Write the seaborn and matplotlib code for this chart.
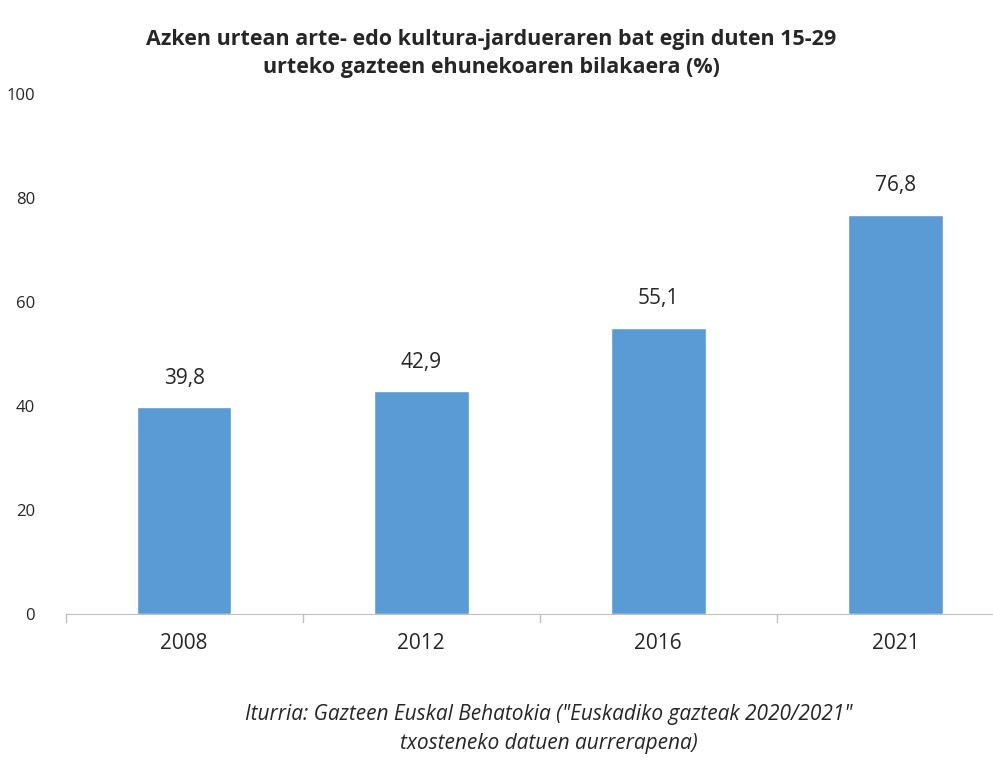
import seaborn as sns
import matplotlib.pyplot as plt
import pandas as pd

# Datuak
years = ["2008", "2012", "2016", "2021"]
values = [39.8, 42.9, 55.1, 76.8]
labels = ["39,8", "42,9", "55,1", "76,8"]

sns.set_style("white")
plt.rcParams["font.family"] = ["Open Sans", "DejaVu Sans"]

df = pd.DataFrame({"year": years, "value": values})

fig = plt.figure(figsize=(9.93, 7.71), dpi=100)
ax = fig.add_axes([0.066, 0.2036, 0.955, 0.6744])

sns.barplot(data=df, x="year", y="value", color="#5B9BD5", width=0.4,
            saturation=1, ax=ax)

for i, (v, t) in enumerate(zip(values, labels)):
    ax.text(i, v + 3.5, t, ha="center", va="bottom", fontsize=15)

ax.set_ylim(0, 100)
ax.set_xlim(-0.5, 3.5)
ax.set_yticks(range(0, 101, 20))
ax.tick_params(axis="y", labelsize=12, length=0, pad=22)
ax.tick_params(axis="x", labelsize=15, length=0, pad=14)
ax.set_xlabel("")
ax.set_ylabel("")
for s in ["top", "right", "left"]:
    ax.spines[s].set_visible(False)
ax.spines["bottom"].set_color("#BFBFBF")
# marka txikiak kategorien artean
for xb in [-0.5, 0.5, 1.5, 2.5]:
    ax.plot([xb, xb], [0, -1.5], color="#BFBFBF", lw=1, clip_on=False)

fig.text(0.495, 0.962, "Azken urtean arte- edo kultura-jardueraren bat egin duten 15-29\n"
         "urteko gazteen ehunekoaren bilakaera (%)",
         ha="center", va="top", fontsize=15.5, fontweight="bold", linespacing=1.4)

fig.text(0.553, 0.055, 'Iturria: Gazteen Euskal Behatokia ("Euskadiko gazteak 2020/2021"\n'
         "txosteneko datuen aurrerapena)",
         ha="center", va="center", fontsize=15, style="italic", linespacing=1.5)

fig.savefig("out.png", dpi=100)
